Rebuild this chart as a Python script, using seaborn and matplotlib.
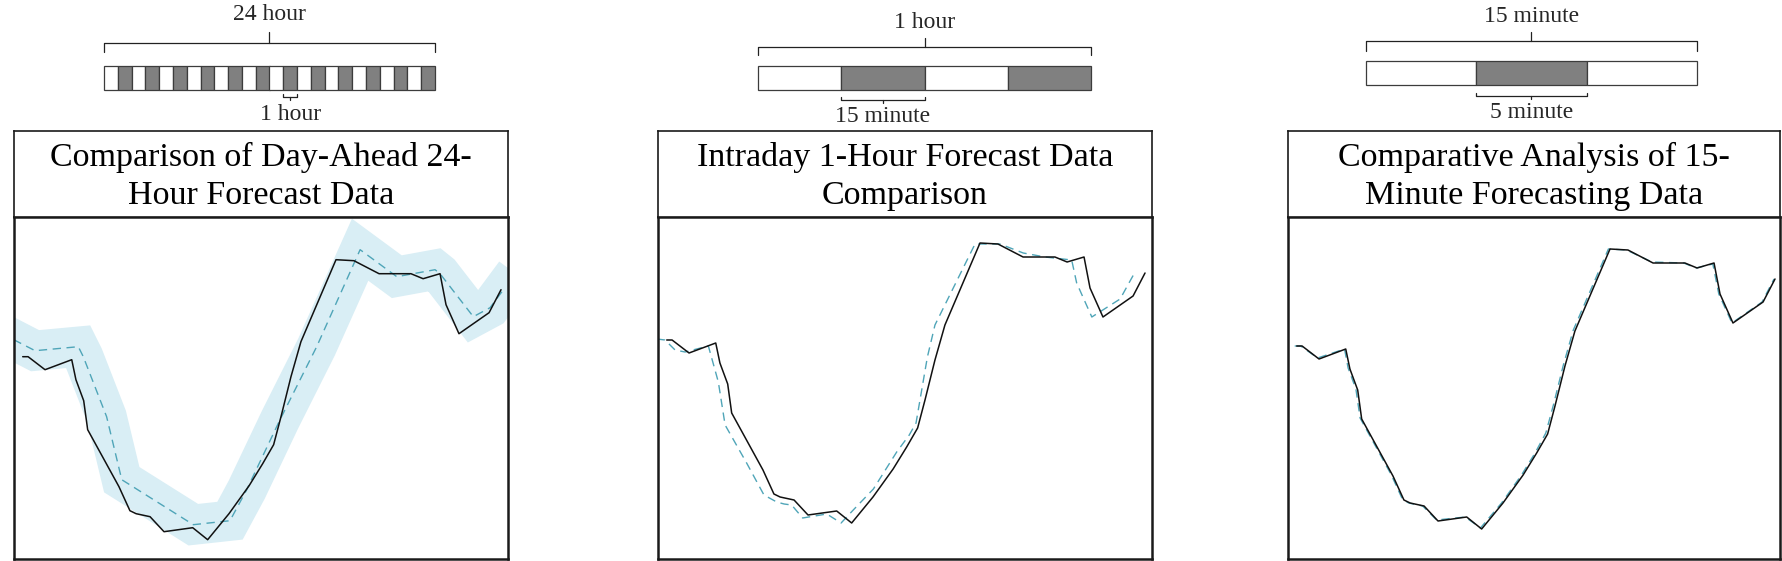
import numpy as np
import pandas as pd
import matplotlib
matplotlib.use("Agg")
import matplotlib.pyplot as plt
import seaborn as sns

sns.set_theme(style="white")
plt.rcParams['font.family'] = ['Liberation Serif', 'DejaVu Serif']

# ---------------- data ----------------
# time axis (hours) of the measured load curve
t_actual = [0.0, 0.27, 1.12, 2.46, 2.67, 3.06, 3.26, 4.83, 5.38, 5.69, 6.39, 7.09,
            8.53, 9.28, 10.35, 11.36, 12.04, 12.59, 12.96, 13.46, 13.96, 15.72,
            16.62, 17.88, 19.48, 20.09, 20.94, 21.24, 21.89, 23.40, 24.0]
actual = [319, 319, 306, 316, 296, 275, 246, 189, 165, 162, 159, 144,
          148, 136, 162, 190, 212, 231, 259, 299, 334, 416,
          415, 402, 402, 397, 402, 371, 342, 363, 386]

# day-ahead 24-hour forecast
t_dayahead = [-0.45, 0.62, 2.79, 3.04, 4.21, 4.97, 8.56, 10.40, 11.24, 12.91,
              14.75, 16.93, 18.77, 20.69, 20.94, 22.61, 23.45, 24.12]
dayahead = [336, 325, 329, 319, 259, 196, 151, 155, 186, 256,
            329, 426, 399, 406, 402, 359, 368, 386]

# intraday 1-hour forecast
t_intraday = [-0.50, -0.085, 0.42, 0.92, 2.09, 2.59, 2.93, 4.01, 4.88, 5.52, 5.89,
              6.27, 6.82, 8.03, 8.75, 9.36, 10.37, 11.54, 12.17, 12.51, 13.08,
              13.46, 15.47, 16.72, 17.89, 18.98, 20.32, 20.57, 21.33, 22.75, 23.50]
intraday = [320, 319, 309, 307, 313, 277, 234, 196, 164, 157, 155,
            154, 141, 145, 136, 149, 170, 207, 224, 236, 302,
            334, 415, 415, 406, 402, 399, 376, 342, 360, 387]

# 15-minute forecast
t_min15 = [-0.1, 0.2, 1.05, 2.4, 2.58, 2.97, 3.18, 4.75, 5.3, 5.62, 6.32, 7.02,
           8.46, 9.22, 10.28, 11.28, 11.96, 12.5, 12.88, 13.38, 13.88, 15.64,
           16.55, 17.82, 19.42, 20.03, 20.88, 21.18, 21.84, 23.35, 23.95]
min15 = [319, 319, 307, 316, 297, 276, 247, 190, 166, 162, 159, 145,
         148, 137, 162, 190, 212, 232, 260, 300, 335, 416,
         415, 403, 402, 397, 401, 371, 342, 363, 386]

titles = ["Comparison of Day-Ahead 24-\nHour Forecast Data",
          "Intraday 1-Hour Forecast Data\nComparison",
          "Comparative Analysis of 15-\nMinute Forecasting Data"]

# timeline diagrams: total span, cell length, highlighted cell, labels
span_total = [24, 60, 15]
span_cell = [1, 15, 5]
span_mark = [13, 1, 1]
span_label = ["24 hour", "1 hour", "15 minute"]
cell_label = ["1 hour", "15 minute", "5 minute"]

# ---------------- layout ----------------
W, H = 1783, 561
fig = plt.figure(figsize=(W / 100, H / 100), dpi=100)

def fbox(x0, x1, y0, y1):
    return [x0 / W, 1 - y1 / H, (x1 - x0) / W, (y1 - y0) / H]

panel_x = [(14, 508), (658, 1152), (1288, 1780)]
bar_x = [(104, 435), (758, 1091), (1366, 1697)]
ylims = [(116.7, 458.7), (100, 442), (106, 448)]
xlims = [(-0.437, 24.35), (-0.437, 24.35), (-0.437, 24.25)]
# vertical layout of the timeline pieces (pixels from top)
tl = [dict(txt=15, tick=32, br=43, brend=52, b0=66, b1=90, sb=97, sbend=94, stxt=115),
      dict(txt=22, tick=38, br=47, brend=55, b0=66, b1=90, sb=100, sbend=97, stxt=117),
      dict(txt=17, tick=32, br=41, brend=51, b0=61, b1=85, sb=96, sbend=93, stxt=113)]

forecasts = [(t_dayahead, dayahead), (t_intraday, intraday), (t_min15, min15)]
teal = "#4fa5b8"
band = "#d9eef5"
gray = "#808080"
edge = "#3c3c3c"

for i in range(3):
    x0, x1 = panel_x[i]
    # --- main plot ---
    ax = fig.add_axes(fbox(x0, x1, 217, 559))
    tf, vf = forecasts[i]
    if i == 0:
        sns.lineplot(x=tf, y=vf, ax=ax, color=band, linewidth=29, sort=False,
                     solid_joinstyle='miter', solid_capstyle='projecting', zorder=1)
    sns.lineplot(x=t_actual, y=actual, ax=ax, color="#111111", linewidth=1.1,
                 sort=False, zorder=3)
    sns.lineplot(x=tf, y=vf, ax=ax, color=teal, linewidth=1.0, sort=False,
                 dashes=False, linestyle=(0, (6, 4)), zorder=2)
    ax.set_xlim(*xlims[i])
    ax.set_ylim(*ylims[i])
    ax.set_xticks([]); ax.set_yticks([])
    ax.set_xlabel(""); ax.set_ylabel("")
    for s in ax.spines.values():
        s.set_visible(True); s.set_color("#1a1a1a"); s.set_linewidth(1.8)

    # --- title box ---
    tax = fig.add_axes(fbox(x0, x1, 131, 217))
    tax.set_xticks([]); tax.set_yticks([])
    tax.set_facecolor("white")
    for s in tax.spines.values():
        s.set_visible(True); s.set_color("#1a1a1a"); s.set_linewidth(1.2)
    tax.text(0.5, 0.47, titles[i], ha="center", va="center", fontsize=24.5,
             linespacing=1.33, color="black", transform=tax.transAxes)

    # --- timeline diagram ---
    bx0, bx1 = bar_x[i]
    L = tl[i]
    dax = fig.add_axes(fbox(bx0, bx1, 0, 131))
    dax.set_xlim(0, span_total[i])
    dax.set_ylim(131, 0)
    dax.axis("off")
    n = span_total[i] // span_cell[i]
    starts = np.arange(n) * span_cell[i]
    cols = ["white" if k % 2 == 0 else gray for k in range(n)]
    bars = dax.bar(starts, L["b1"] - L["b0"], bottom=L["b0"], width=span_cell[i],
                   align="edge", color=cols, edgecolor=edge, linewidth=0.9)
    for b in bars:
        b.set_clip_on(False)
    tot = span_total[i]
    # big bracket
    dax.plot([0, 0, tot, tot], [L["brend"], L["br"], L["br"], L["brend"]],
             color="#222222", lw=0.9, clip_on=False)
    dax.plot([tot / 2, tot / 2], [L["tick"], L["br"]], color="#222222", lw=0.9, clip_on=False)
    dax.text(tot / 2, L["txt"], span_label[i], ha="center", va="center",
             fontsize=17, clip_on=False)
    # small bracket under highlighted cell
    c0 = span_mark[i] * span_cell[i]
    c1 = c0 + span_cell[i]
    cm = (c0 + c1) / 2
    dax.plot([c0, c0, c1, c1], [L["sbend"], L["sb"], L["sb"], L["sbend"]],
             color="#222222", lw=0.9, clip_on=False)
    dax.plot([cm, cm], [L["sb"], L["sb"] + 3], color="#222222", lw=0.9, clip_on=False)
    dax.text(cm, L["stxt"], cell_label[i], ha="center", va="center",
             fontsize=17, clip_on=False)

fig.savefig("out.png", dpi=100, facecolor="white")
